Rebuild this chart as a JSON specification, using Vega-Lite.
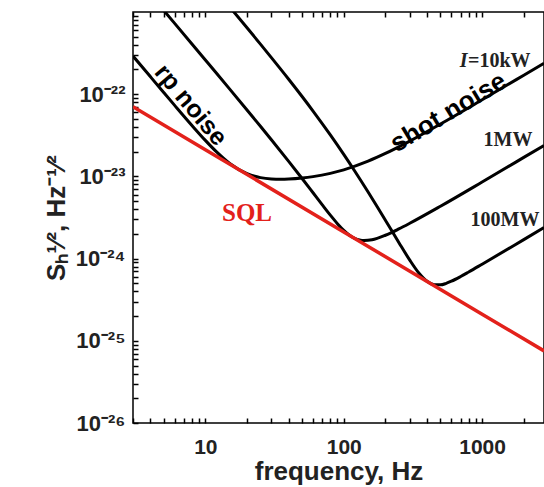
{
  "$schema": "https://vega.github.io/schema/vega-lite/v6.json",
  "width": 411,
  "height": 411,
  "autosize": {"type": "none"},
  "padding": {"left": 133, "top": 12, "right": 0, "bottom": 64},
  "background": "white",
  "config": {
    "view": {"stroke": "black", "strokeWidth": 1.5},
    "axis": {
      "labelFont": "Liberation Sans", "labelFontWeight": "bold", "labelFontSize": 21, "labelColor": "#222",
      "titleFont": "Liberation Sans", "titleFontWeight": "bold", "titleFontSize": 26, "titleColor": "#222",
      "tickColor": "black", "tickSize": -5, "tickWidth": 1.5, "domain": false, "grid": false
    }
  },
  "datasets": {
    "noise": [
      {"curve": "SQL", "f": 3, "h": 7.033e-23},
      {"curve": "SQL", "f": 10, "h": 2.11e-23},
      {"curve": "SQL", "f": 100, "h": 2.11e-24},
      {"curve": "SQL", "f": 1000, "h": 2.11e-25},
      {"curve": "SQL", "f": 2800, "h": 7.536e-26},

      {"curve": "10kW", "f": 3, "h": 2.911e-22},
      {"curve": "10kW", "f": 4, "h": 1.638e-22},
      {"curve": "10kW", "f": 5, "h": 1.050e-22},
      {"curve": "10kW", "f": 6, "h": 7.316e-23},
      {"curve": "10kW", "f": 8, "h": 4.169e-23},
      {"curve": "10kW", "f": 10, "h": 2.743e-23},
      {"curve": "10kW", "f": 12, "h": 2.000e-23},
      {"curve": "10kW", "f": 15, "h": 1.437e-23},
      {"curve": "10kW", "f": 20, "h": 1.079e-23},
      {"curve": "10kW", "f": 25, "h": 9.660e-24},
      {"curve": "10kW", "f": 30, "h": 9.302e-24},
      {"curve": "10kW", "f": 35, "h": 9.229e-24},
      {"curve": "10kW", "f": 40, "h": 9.280e-24},
      {"curve": "10kW", "f": 50, "h": 9.549e-24},
      {"curve": "10kW", "f": 60, "h": 9.933e-24},
      {"curve": "10kW", "f": 80, "h": 1.089e-23},
      {"curve": "10kW", "f": 100, "h": 1.202e-23},
      {"curve": "10kW", "f": 150, "h": 1.532e-23},
      {"curve": "10kW", "f": 200, "h": 1.901e-23},
      {"curve": "10kW", "f": 300, "h": 2.688e-23},
      {"curve": "10kW", "f": 500, "h": 4.334e-23},
      {"curve": "10kW", "f": 1000, "h": 8.542e-23},
      {"curve": "10kW", "f": 2000, "h": 1.702e-22},
      {"curve": "10kW", "f": 2800, "h": 2.3815e-22},

      {"curve": "1MW", "f": 5, "h": 1.0468e-21},
      {"curve": "1MW", "f": 6, "h": 7.266e-22},
      {"curve": "1MW", "f": 8, "h": 4.081e-22},
      {"curve": "1MW", "f": 10, "h": 2.607e-22},
      {"curve": "1MW", "f": 12, "h": 1.807e-22},
      {"curve": "1MW", "f": 15, "h": 1.152e-22},
      {"curve": "1MW", "f": 20, "h": 6.423e-23},
      {"curve": "1MW", "f": 25, "h": 4.067e-23},
      {"curve": "1MW", "f": 30, "h": 2.788e-23},
      {"curve": "1MW", "f": 40, "h": 1.523e-23},
      {"curve": "1MW", "f": 50, "h": 9.422e-24},
      {"curve": "1MW", "f": 60, "h": 6.319e-24},
      {"curve": "1MW", "f": 70, "h": 4.502e-24},
      {"curve": "1MW", "f": 80, "h": 3.377e-24},
      {"curve": "1MW", "f": 90, "h": 2.662e-24},
      {"curve": "1MW", "f": 100, "h": 2.209e-24},
      {"curve": "1MW", "f": 110, "h": 1.928e-24},
      {"curve": "1MW", "f": 120, "h": 1.766e-24},
      {"curve": "1MW", "f": 130, "h": 1.684e-24},
      {"curve": "1MW", "f": 140, "h": 1.656e-24},
      {"curve": "1MW", "f": 160, "h": 1.693e-24},
      {"curve": "1MW", "f": 200, "h": 1.923e-24},
      {"curve": "1MW", "f": 250, "h": 2.294e-24},
      {"curve": "1MW", "f": 300, "h": 2.690e-24},
      {"curve": "1MW", "f": 500, "h": 4.334e-24},
      {"curve": "1MW", "f": 1000, "h": 8.542e-24},
      {"curve": "1MW", "f": 2000, "h": 1.702e-23},
      {"curve": "1MW", "f": 2800, "h": 2.3815e-23},

      {"curve": "100MW", "f": 15, "h": 1.1516e-21},
      {"curve": "100MW", "f": 20, "h": 6.423e-22},
      {"curve": "100MW", "f": 25, "h": 4.067e-22},
      {"curve": "100MW", "f": 30, "h": 2.788e-22},
      {"curve": "100MW", "f": 40, "h": 1.521e-22},
      {"curve": "100MW", "f": 50, "h": 9.374e-23},
      {"curve": "100MW", "f": 60, "h": 6.241e-23},
      {"curve": "100MW", "f": 80, "h": 3.197e-23},
      {"curve": "100MW", "f": 100, "h": 1.853e-23},
      {"curve": "100MW", "f": 120, "h": 1.165e-23},
      {"curve": "100MW", "f": 150, "h": 6.459e-24},
      {"curve": "100MW", "f": 175, "h": 4.248e-24},
      {"curve": "100MW", "f": 200, "h": 2.935e-24},
      {"curve": "100MW", "f": 250, "h": 1.574e-24},
      {"curve": "100MW", "f": 300, "h": 9.590e-25},
      {"curve": "100MW", "f": 350, "h": 6.641e-25},
      {"curve": "100MW", "f": 400, "h": 5.297e-25},
      {"curve": "100MW", "f": 450, "h": 4.820e-25},
      {"curve": "100MW", "f": 500, "h": 4.797e-25},
      {"curve": "100MW", "f": 550, "h": 4.998e-25},
      {"curve": "100MW", "f": 600, "h": 5.307e-25},
      {"curve": "100MW", "f": 700, "h": 6.057e-25},
      {"curve": "100MW", "f": 800, "h": 6.872e-25},
      {"curve": "100MW", "f": 1000, "h": 8.546e-25},
      {"curve": "100MW", "f": 2000, "h": 1.702e-24},
      {"curve": "100MW", "f": 2800, "h": 2.3815e-24}
    ],
    "labels": [
      {"kind": "rp", "label": "rp noise", "f": 7.87, "h": 7.4e-23},
      {"kind": "shot", "label": "shot noise", "f": 570, "h": 6.0e-23},
      {"kind": "italic", "label": "I", "f": 735, "h": 2.53e-22},
      {"kind": "power", "label": "=10kW", "f": 1330, "h": 2.53e-22},
      {"kind": "power", "label": "1MW", "f": 1538, "h": 2.77e-23},
      {"kind": "power", "label": "100MW", "f": 1462, "h": 2.95e-24},
      {"kind": "sql", "label": "SQL", "f": 20, "h": 3.59e-24}
    ]
  },
  "resolve": {"axis": {"x": "independent"}},
  "encoding": {
    "y": {"field": "h", "type": "quantitative", "scale": {"type": "log", "domain": [1e-26, 1e-21]},
      "axis": {"orient": "left", "title": "Sₕ¹⁄², Hz⁻¹⁄²", "tickCount": 60, "labelFontSize": 22,
        "values": [1e-26,2e-26,3e-26,4e-26,5e-26,6e-26,7e-26,8e-26,9e-26,1e-25,2e-25,3e-25,4e-25,5e-25,6e-25,7e-25,8e-25,9e-25,1e-24,2e-24,3e-24,4e-24,5e-24,6e-24,7e-24,8e-24,9e-24,1e-23,2e-23,3e-23,4e-23,5e-23,6e-23,7e-23,8e-23,9e-23,1e-22,2e-22,3e-22,4e-22,5e-22,6e-22,7e-22,8e-22,9e-22],
        "labelExpr": "abs(log(datum.value)/LN10 - round(log(datum.value)/LN10)) < 0.001 ? '10⁻²' + ['⁶','⁵','⁴','³','²'][round(log(datum.value)/LN10) + 26] : ''",
        "labelPadding": 13, "titlePadding": 6}}
  },
  "layer": [
    {
      "data": {"name": "noise"},
      "transform": [{"filter": "datum.curve != 'SQL'"}],
      "mark": {"type": "line", "color": "black", "strokeWidth": 3, "clip": true, "interpolate": "monotone"},
      "encoding": {
        "x": {"field": "f", "type": "quantitative", "scale": {"type": "log", "domain": [3, 2800]},
          "axis": {"orient": "bottom", "title": "frequency, Hz", "tickCount": 60, "values": [3,4,5,6,7,8,9,10,20,30,40,50,60,70,80,90,100,200,300,400,500,600,700,800,900,1000,2000],
            "labelExpr": "datum.value == 10 ? '10' : datum.value == 100 ? '100' : datum.value == 1000 ? '1000' : ''",
            "labelPadding": 18, "titlePadding": 1}},
        "detail": {"field": "curve"}
      }
    },
    {
      "data": {"name": "noise"},
      "transform": [{"filter": "datum.curve == 'SQL'"}],
      "mark": {"type": "line", "color": "#e3211b", "strokeWidth": 3.5, "clip": true},
      "encoding": {
        "x": {"field": "f", "type": "quantitative", "scale": {"type": "log", "domain": [3, 2800]},
          "axis": {"orient": "top", "title": null, "labels": false, "tickCount": 60, "values": [3,4,5,6,7,8,9,10,20,30,40,50,60,70,80,90,100,200,300,400,500,600,700,800,900,1000,2000]}}
      }
    },
    {
      "data": {"name": "labels"},
      "transform": [{"filter": "datum.kind == 'rp'"}],
      "mark": {"type": "text", "font": "Liberation Sans", "fontWeight": "bold", "fontSize": 25, "angle": 50, "align": "center", "baseline": "middle", "color": "black"},
      "encoding": {
        "x": {"field": "f", "type": "quantitative", "scale": {"type": "log", "domain": [3, 2800]}, "axis": null},
        "text": {"field": "label"}
      }
    },
    {
      "data": {"name": "labels"},
      "transform": [{"filter": "datum.kind == 'shot'"}],
      "mark": {"type": "text", "font": "Liberation Sans", "fontWeight": "bold", "fontSize": 26, "angle": -31, "align": "center", "baseline": "middle", "color": "black"},
      "encoding": {
        "x": {"field": "f", "type": "quantitative", "scale": {"type": "log", "domain": [3, 2800]}, "axis": null},
        "text": {"field": "label"}
      }
    },
    {
      "data": {"name": "labels"},
      "transform": [{"filter": "datum.kind == 'power'"}],
      "mark": {"type": "text", "font": "Liberation Serif", "fontWeight": "bold", "fontSize": 20, "align": "center", "baseline": "middle", "color": "#222"},
      "encoding": {
        "x": {"field": "f", "type": "quantitative", "scale": {"type": "log", "domain": [3, 2800]}, "axis": null},
        "text": {"field": "label"}
      }
    },
    {
      "data": {"name": "labels"},
      "transform": [{"filter": "datum.kind == 'italic'"}],
      "mark": {"type": "text", "font": "Liberation Serif", "fontWeight": "bold", "fontStyle": "italic", "fontSize": 20, "align": "center", "baseline": "middle", "color": "#222"},
      "encoding": {
        "x": {"field": "f", "type": "quantitative", "scale": {"type": "log", "domain": [3, 2800]}, "axis": null},
        "text": {"field": "label"}
      }
    },
    {
      "data": {"name": "labels"},
      "transform": [{"filter": "datum.kind == 'sql'"}],
      "mark": {"type": "text", "font": "Liberation Serif", "fontWeight": "bold", "fontSize": 25, "align": "center", "baseline": "middle", "color": "#e3211b"},
      "encoding": {
        "x": {"field": "f", "type": "quantitative", "scale": {"type": "log", "domain": [3, 2800]}, "axis": null},
        "text": {"field": "label"}
      }
    }
  ]
}
